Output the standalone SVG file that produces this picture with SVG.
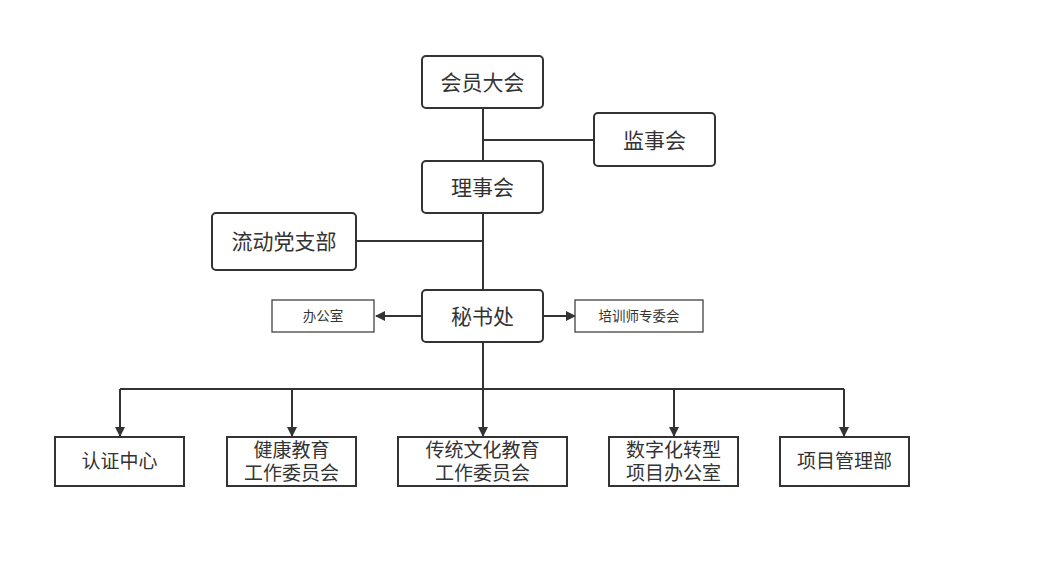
<svg xmlns="http://www.w3.org/2000/svg" width="1064" height="570" viewBox="0 0 1064 570">
<defs>
<style>
.b{fill:#fff;stroke:#333;stroke-width:2}
.t{fill:#fff;stroke:#333;stroke-width:1.2}
text{font-family:"Liberation Sans","Noto Sans CJK SC",sans-serif;fill:#333;text-anchor:middle;dominant-baseline:central}
.l{font-size:21px}.m{font-size:19px}.s{font-size:13.5px}
.c{stroke:#333;stroke-width:2;fill:none}
</style>
<marker id="a" markerWidth="10" markerHeight="10" refX="9" refY="5" orient="auto" markerUnits="userSpaceOnUse">
<path d="M0,0 L10,5 L0,10 Z" fill="#333"/>
</marker>
</defs>
<rect width="1064" height="570" fill="#fff"/>
<g id="connectors">
<path class="c" d="M483,108 V161 M483,140 H594 M483,213 V290 M356,241 H483"/>
<path class="c" d="M422,316 H376" marker-end="url(#a)"/>
<path class="c" d="M543,316 H575" marker-end="url(#a)"/>
<path class="c" d="M483,342 V389 M120,389 H844"/>
<path class="c" d="M120,389 V436" marker-end="url(#a)"/>
<path class="c" d="M292,389 V436" marker-end="url(#a)"/>
<path class="c" d="M483,389 V436" marker-end="url(#a)"/>
<path class="c" d="M674,389 V436" marker-end="url(#a)"/>
<path class="c" d="M844,389 V436" marker-end="url(#a)"/>
</g>
<g id="n1"><rect class="b" x="422" y="56" width="121" height="52" rx="4"/><text class="l" x="482.5" y="82">会员大会</text></g>
<g id="n2"><rect class="b" x="594" y="113" width="121" height="53" rx="4"/><text class="l" x="654.5" y="140">监事会</text></g>
<g id="n3"><rect class="b" x="422" y="161" width="121" height="52" rx="4"/><text class="l" x="482.5" y="187">理事会</text></g>
<g id="n4"><rect class="b" x="212" y="213" width="144" height="57" rx="4"/><text class="l" x="284" y="241.5">流动党支部</text></g>
<g id="n5"><rect class="b" x="422" y="290" width="121" height="52" rx="4"/><text class="l" x="482.5" y="316">秘书处</text></g>
<g id="n6"><rect class="t" x="272" y="300" width="102" height="32"/><text class="s" x="323" y="316">办公室</text></g>
<g id="n7"><rect class="t" x="575" y="300" width="128" height="32"/><text class="s" x="639" y="316">培训师专委会</text></g>
<g id="n8"><rect class="b" x="55" y="437" width="129" height="49"/><text class="m" x="119.5" y="461.5">认证中心</text></g>
<g id="n9"><rect class="b" x="227" y="437" width="129" height="49"/><text class="m" x="291.5" y="450">健康教育</text><text class="m" x="291.5" y="473">工作委员会</text></g>
<g id="n10"><rect class="b" x="398" y="437" width="169" height="49"/><text class="m" x="482.5" y="450">传统文化教育</text><text class="m" x="482.5" y="473">工作委员会</text></g>
<g id="n11"><rect class="b" x="609" y="437" width="129" height="49"/><text class="m" x="673.5" y="450">数字化转型</text><text class="m" x="673.5" y="473">项目办公室</text></g>
<g id="n12"><rect class="b" x="780" y="437" width="129" height="49"/><text class="m" x="844.5" y="461.5">项目管理部</text></g>
</svg>
